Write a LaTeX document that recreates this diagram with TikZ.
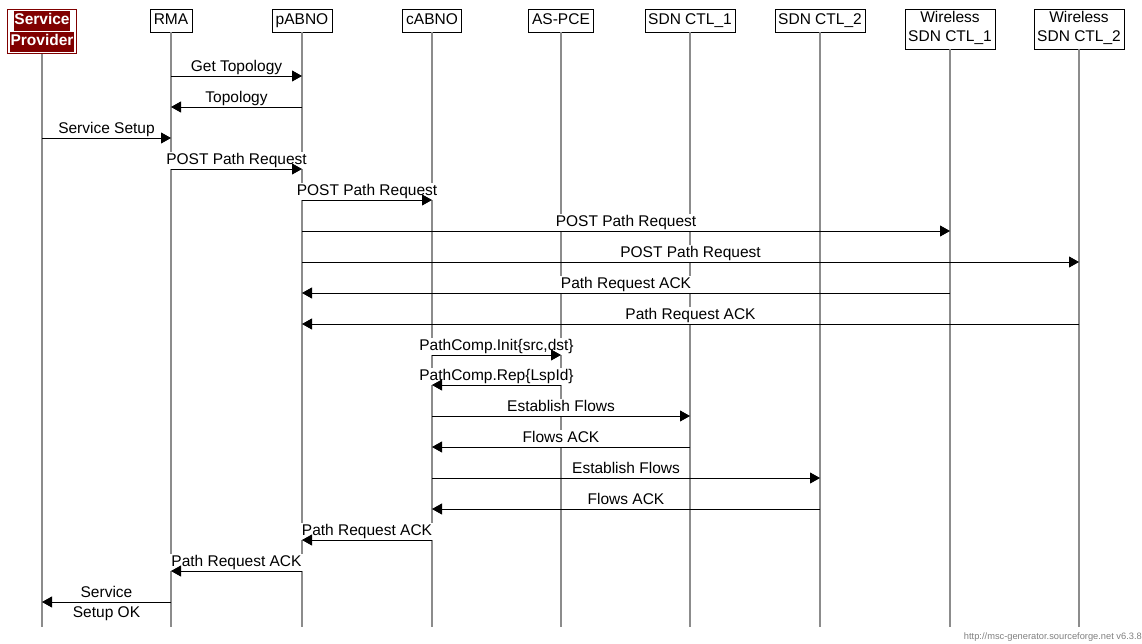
\documentclass[tikz,border=0pt]{standalone}
\usepackage{fontspec}
\setmainfont{Liberation Sans}
\usetikzlibrary{arrows.meta}

\definecolor{spred}{RGB}{128,0,0}
\definecolor{lifegray}{RGB}{140,140,140}

\tikzset{
  entity/.style={draw, fill=white, anchor=north, inner xsep=3.5pt, inner ysep=2pt, align=center,
    font=\fontsize{15.5}{19}\selectfont, execute at begin node=\strut, execute at end node=\strut},
  lifeline/.style={lifegray, line width=1.5pt},
  msg/.style={-{Triangle[length=10pt,width=11pt]}, line width=0.9pt},
  lbl/.style={fill=white, inner sep=1pt, text height=11.5pt, text depth=3.5pt,
    font=\fontsize{15.5}{17}\selectfont}
}

\newcommand{\spline}[1]{{\setlength{\fboxsep}{0.5pt}\colorbox{spred}{\strut#1}}}
% label first, arrow on top of it
\newcommand{\msgline}[4]{%
  \path (#1 |- 0,#3) -- (#2 |- 0,#3) node[midway, above=0pt, lbl] (l#3) {#4};
  \draw[msg] (#1 |- 0,#3) -- (#2 |- 0,#3);}

\begin{document}
\begin{tikzpicture}[x=1pt, y=-1pt]
  \useasboundingbox (0,0) rectangle (1142,644);

  % Entities
  \node[entity, draw=spred, line width=1pt, text=white, inner xsep=2.5pt, inner ysep=1.5pt,
    font=\fontsize{15.5}{19}\selectfont\bfseries, execute at begin node={}, execute at end node={}]
    (sp) at (42,9) {\spline{Service}\\\spline{Provider}};
  \node[entity] (rma) at (171,9) {RMA};
  \node[entity] (pabno) at (302,9) {pABNO};
  \node[entity] (cabno) at (432,9) {cABNO};
  \node[entity] (aspce) at (561,9) {AS-PCE};
  \node[entity] (sdn1) at (690,9) {SDN CTL\_1};
  \node[entity] (sdn2) at (820,9) {SDN CTL\_2};
  \node[entity] (wsdn1) at (950,9) {Wireless\\SDN CTL\_1};
  \node[entity] (wsdn2) at (1079,9) {Wireless\\SDN CTL\_2};

  % Lifelines
  \foreach \e in {sp,rma,pabno,cabno,aspce,sdn1,sdn2,wsdn1,wsdn2}
    \draw[lifeline] (\e.south) -- (\e |- 0,627);

  % Messages
  \msgline{rma}{pabno}{76}{Get Topology}
  \msgline{pabno}{rma}{107}{Topology}
  \msgline{sp}{rma}{138}{Service Setup}
  \msgline{rma}{pabno}{169}{POST Path Request}
  \msgline{pabno}{cabno}{200}{POST Path Request}
  \msgline{pabno}{wsdn1}{231}{POST Path Request}
  \msgline{pabno}{wsdn2}{262}{POST Path Request}
  \msgline{wsdn1}{pabno}{293}{Path Request ACK}
  \msgline{wsdn2}{pabno}{324}{Path Request ACK}
  \msgline{cabno}{aspce}{355}{PathComp.Init\{src,dst\}}
  \msgline{aspce}{cabno}{385}{PathComp.Rep\{LspId\}}
  \msgline{cabno}{sdn1}{416}{Establish Flows}
  \msgline{sdn1}{cabno}{447}{Flows ACK}
  \msgline{cabno}{sdn2}{478}{Establish Flows}
  \msgline{sdn2}{cabno}{509}{Flows ACK}
  \msgline{cabno}{pabno}{540}{Path Request ACK}
  \msgline{pabno}{rma}{571}{Path Request ACK}
  \path (rma |- 0,602) -- (sp |- 0,602)
    node[midway, above=0pt, lbl] (l602a) {Service} node[midway, below=2.5pt, lbl] (l602b) {Setup OK};
  \draw[msg] (rma |- 0,602) -- (sp |- 0,602);

  % Credit line
  \node[anchor=east, inner sep=0pt, text=gray, font=\fontsize{9.3}{10}\selectfont]
    (credit) at (1142,637) {http://msc-generator.sourceforge.net v6.3.8};
\end{tikzpicture}
\end{document}
